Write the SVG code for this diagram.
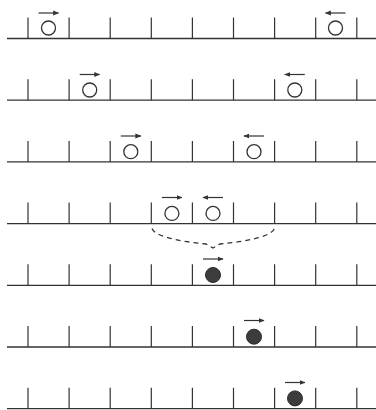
<svg xmlns="http://www.w3.org/2000/svg" width="376" height="410" viewBox="0 0 376 410">
  <style>
    .track{stroke:#333;stroke-width:1.3;fill:none}
    .tick{stroke:#333;stroke-width:1.2}
    .open{fill:#fff;stroke:#333;stroke-width:1.3}
    .solid{fill:#3c3c3c;stroke:#2a2a2a;stroke-width:1}
    .arr{stroke:#333;stroke-width:1.2;fill:none;marker-end:url(#ah)}
    .dash{stroke:#333;stroke-width:1.3;fill:none;stroke-dasharray:5 4}
  </style>
  <defs>
    <marker id="ah" viewBox="0 0 10 10" refX="9" refY="5" markerWidth="6" markerHeight="6" markerUnits="userSpaceOnUse" orient="auto">
      <path d="M0,1 L10,5 L0,9 Z" fill="#333"/>
    </marker>
    <g id="rail">
      <line class="track" x1="7" y1="0" x2="376" y2="0"/>
      <path class="tick" d="M28,0V-21 M69.1,0V-21 M110.2,0V-21 M151.3,0V-21 M192.4,0V-21 M233.5,0V-21 M274.6,0V-21 M315.7,0V-21 M356.8,0V-21"/>
    </g>
  </defs>

  <g id="rails">
    <use href="#rail" y="38.5"/>
    <use href="#rail" y="100.2"/>
    <use href="#rail" y="161.9"/>
    <use href="#rail" y="223.6"/>
    <use href="#rail" y="285.3"/>
    <use href="#rail" y="347"/>
    <use href="#rail" y="408.7"/>
  </g>

  <g id="r1-left">
    <circle class="open" cx="48.5" cy="28" r="7"/>
    <line class="arr" x1="38.5" y1="13" x2="58.5" y2="13"/>
  </g>
  <g id="r1-right">
    <circle class="open" cx="335.5" cy="28" r="7"/>
    <line class="arr" x1="345.5" y1="13" x2="325.5" y2="13"/>
  </g>

  <g id="r2-left">
    <circle class="open" cx="89.7" cy="90" r="7"/>
    <line class="arr" x1="79.7" y1="74.5" x2="99.7" y2="74.5"/>
  </g>
  <g id="r2-right">
    <circle class="open" cx="294.8" cy="90" r="7"/>
    <line class="arr" x1="304.8" y1="74.5" x2="284.8" y2="74.5"/>
  </g>

  <g id="r3-left">
    <circle class="open" cx="130.8" cy="151.7" r="7"/>
    <line class="arr" x1="120.8" y1="136" x2="140.8" y2="136"/>
  </g>
  <g id="r3-right">
    <circle class="open" cx="254" cy="151.7" r="7"/>
    <line class="arr" x1="264" y1="136" x2="244" y2="136"/>
  </g>

  <g id="r4-left">
    <circle class="open" cx="171.9" cy="213.4" r="7"/>
    <line class="arr" x1="161.9" y1="197.5" x2="181.9" y2="197.5"/>
  </g>
  <g id="r4-right">
    <circle class="open" cx="213" cy="213.4" r="7"/>
    <line class="arr" x1="223" y1="197.5" x2="203" y2="197.5"/>
  </g>

  <g id="r5-merged">
    <circle class="solid" cx="213" cy="275" r="7.5"/>
    <line class="arr" x1="203" y1="259" x2="223" y2="259"/>
  </g>

  <g id="r6-merged">
    <circle class="solid" cx="254" cy="336.7" r="7.5"/>
    <line class="arr" x1="244" y1="320.5" x2="264" y2="320.5"/>
  </g>

  <g id="r7-merged">
    <circle class="solid" cx="295" cy="398.4" r="7.5"/>
    <line class="arr" x1="285" y1="382.5" x2="305" y2="382.5"/>
  </g>

  <g id="connectors">
    <path class="dash" d="M152,228.5 Q156,239 206,244 L213,248 L220,244 Q270,239 274.5,228.5"/>
  </g>
</svg>
